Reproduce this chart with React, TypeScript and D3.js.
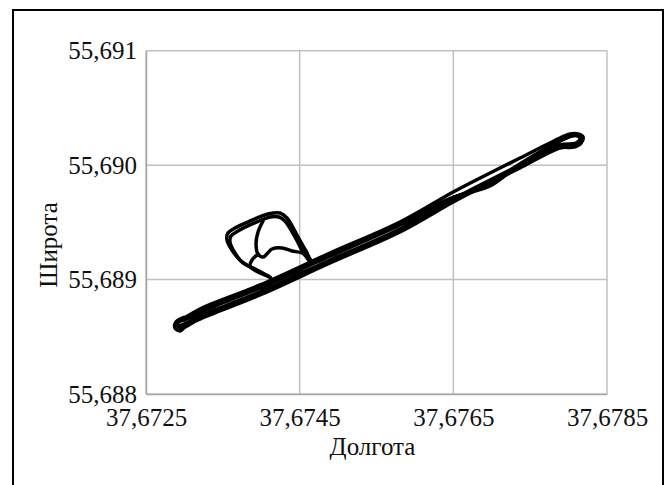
import React, { useEffect, useRef } from 'react';
import * as d3 from 'd3';

// GPS track: [longitude, latitude]
const lapOuter: [number, number][] = [
  [37.673021, 55.688673], [37.673203, 55.688743], [37.673984, 55.688953], [37.674895, 55.689232],
  [37.675806, 55.689503], [37.676522, 55.689774], [37.677107, 55.689975], [37.677368, 55.690062],
  [37.677888, 55.690237], [37.678018, 55.690272], [37.678123, 55.690272], [37.678188, 55.690246],
  [37.678162, 55.690193], [37.67807, 55.690158], [37.677888, 55.69015], [37.677368, 55.689975],
  [37.677107, 55.689888], [37.676522, 55.689687], [37.675806, 55.689416], [37.674895, 55.689145],
  [37.673984, 55.688865], [37.673203, 55.688655], [37.673021, 55.688594], [37.672943, 55.688551],
  [37.672877, 55.688577], [37.67289, 55.688629], [37.672969, 55.688664], [37.673021, 55.688673],
];

const lapMiddle: [number, number][] = [
  [37.672995, 55.688647], [37.673203, 55.688717], [37.673984, 55.688926], [37.674895, 55.689206],
  [37.675806, 55.689477], [37.676326, 55.689669], [37.676717, 55.689774], [37.676977, 55.689853],
  [37.677238, 55.689957], [37.677888, 55.690211], [37.678044, 55.690255], [37.678123, 55.690255],
  [37.678149, 55.690228], [37.678097, 55.690193], [37.677888, 55.690176], [37.677368, 55.690001],
  [37.677107, 55.689914], [37.676522, 55.689713], [37.675806, 55.689442], [37.674895, 55.689171],
  [37.673984, 55.688891], [37.673203, 55.688682], [37.672969, 55.688603], [37.672916, 55.688594],
  [37.672916, 55.688629], [37.672995, 55.688647],
];

const lapDetour: [number, number][] = [
  [37.673047, 55.688664], [37.673723, 55.688865], [37.674153, 55.688987], [37.67401, 55.689057],
  [37.673854, 55.68911], [37.673723, 55.689171], [37.673619, 55.689258], [37.673554, 55.689346],
  [37.673567, 55.689407], [37.673658, 55.689451], [37.673854, 55.689512], [37.674088, 55.689573],
  [37.674244, 55.689582], [37.674335, 55.689538], [37.674465, 55.689389], [37.674582, 55.68925],
  [37.674674, 55.689154], [37.674895, 55.689206], [37.675806, 55.689486], [37.676522, 55.689722],
  [37.676977, 55.689818], [37.677368, 55.69001], [37.677888, 55.690211], [37.678083, 55.690263],
  [37.678162, 55.690228], [37.67811, 55.690185], [37.677888, 55.690167], [37.677107, 55.689905],
  [37.676522, 55.689704], [37.675806, 55.689433], [37.674895, 55.689162], [37.673984, 55.688883],
  [37.673203, 55.688664], [37.672969, 55.688577], [37.672903, 55.688603], [37.672969, 55.688647],
  [37.673047, 55.688664],
];

const detourInner: [number, number][] = [
  [37.674023, 55.689512], [37.673958, 55.689416], [37.673932, 55.689311], [37.673958, 55.689223],
  [37.674023, 55.689197], [37.67414, 55.689267], [37.67427, 55.689276], [37.6744, 55.68925],
  [37.67453, 55.689232], [37.674621, 55.68918],
];

const detourStub: [number, number][] = [
  [37.673958, 55.689223], [37.67388, 55.689171], [37.673854, 55.689119], [37.673932, 55.689075],
  [37.674088, 55.689031],
];

const detourSecond: [number, number][] = [
  [37.674114, 55.689022], [37.673919, 55.689092], [37.673762, 55.689145], [37.673658, 55.689232],
  [37.673593, 55.689328], [37.673606, 55.689381], [37.673697, 55.689424], [37.67388, 55.689486],
  [37.674114, 55.689547], [37.674231, 55.689547], [37.674309, 55.689512], [37.674439, 55.689372],
  [37.674543, 55.689241], [37.674634, 55.689154],
];

const tracks = [lapOuter, lapMiddle, lapDetour, detourInner, detourStub, detourSecond];

const lonTicks = [37.6725, 37.6745, 37.6765, 37.6785];
const latTicks = [55.688, 55.689, 55.69, 55.691];

const W = 665;
const H = 485;

export default function App() {
  const ref = useRef<SVGSVGElement>(null);

  useEffect(() => {
    const svg = d3.select(ref.current);
    svg.selectAll('*').remove();

    const left = 146, right = 607, top = 50.7, bottom = 394;
    const font = '"Liberation Serif", "Times New Roman", serif';

    const x = d3.scaleLinear().domain([37.6725, 37.6785]).range([left, right]);
    const y = d3.scaleLinear().domain([55.688, 55.691]).range([bottom, top]);

    svg.append('rect')
      .attr('x', 0).attr('y', 0).attr('width', W).attr('height', H)
      .attr('fill', '#fff');

    // outer frame
    svg.append('rect')
      .attr('x', 13).attr('y', 10)
      .attr('width', 650).attr('height', 490)
      .attr('fill', 'none')
      .attr('stroke', '#000')
      .attr('stroke-width', 2);

    const grid = svg.append('g').attr('stroke', '#c0c0c0').attr('stroke-width', 1.5);
    grid.selectAll('line.v').data(lonTicks).enter().append('line')
      .attr('class', 'v')
      .attr('x1', d => x(d)).attr('x2', d => x(d))
      .attr('y1', top).attr('y2', bottom);
    grid.selectAll('line.h').data(latTicks).enter().append('line')
      .attr('class', 'h')
      .attr('x1', left).attr('x2', right)
      .attr('y1', d => y(d)).attr('y2', d => y(d));

    const fmt = (d: number, n: number) => d.toFixed(n).replace('.', ',');

    const xAxis = d3.axisBottom(x).tickValues(lonTicks).tickSize(0).tickPadding(14)
      .tickFormat(d => fmt(+d, 4));
    const yAxis = d3.axisLeft(y).tickValues(latTicks).tickSize(0).tickPadding(9)
      .tickFormat(d => fmt(+d, 3));

    const gx = svg.append('g').attr('transform', `translate(0,${bottom})`).call(xAxis);
    const gy = svg.append('g').attr('transform', `translate(${left},0)`).call(yAxis);
    [gx, gy].forEach(g => {
      g.attr('font-family', font).attr('font-size', 25);
      g.select('.domain').attr('stroke', '#a8a8a8').attr('stroke-width', 1.5);
      g.selectAll('text')
        .style('font-family', font)
        .attr('font-size', 25)
        .attr('fill', '#111');
    });

    const line = d3.line<[number, number]>()
      .x(d => x(d[0]))
      .y(d => y(d[1]))
      .curve(d3.curveCatmullRom.alpha(0.5));

    svg.append('g').selectAll('path').data(tracks).enter().append('path')
      .attr('d', d => line(d))
      .attr('fill', 'none')
      .attr('stroke', '#000')
      .attr('stroke-width', 3.5)
      .attr('stroke-linejoin', 'round')
      .attr('stroke-linecap', 'round');

    svg.append('text')
      .attr('x', (left + right) / 2 - 4).attr('y', 455)
      .attr('text-anchor', 'middle')
      .style('font-family', font).attr('font-size', 25).attr('fill', '#111')
      .text('Долгота');

    svg.append('text')
      .attr('transform', 'translate(57,245) rotate(-90)')
      .attr('text-anchor', 'middle')
      .style('font-family', font).attr('font-size', 25).attr('fill', '#111')
      .text('Широта');
  }, []);

  return (
    <svg ref={ref} width={W} height={H}
      style={{ position: 'absolute', left: 0, top: 0, display: 'block' }} />
  );
}
